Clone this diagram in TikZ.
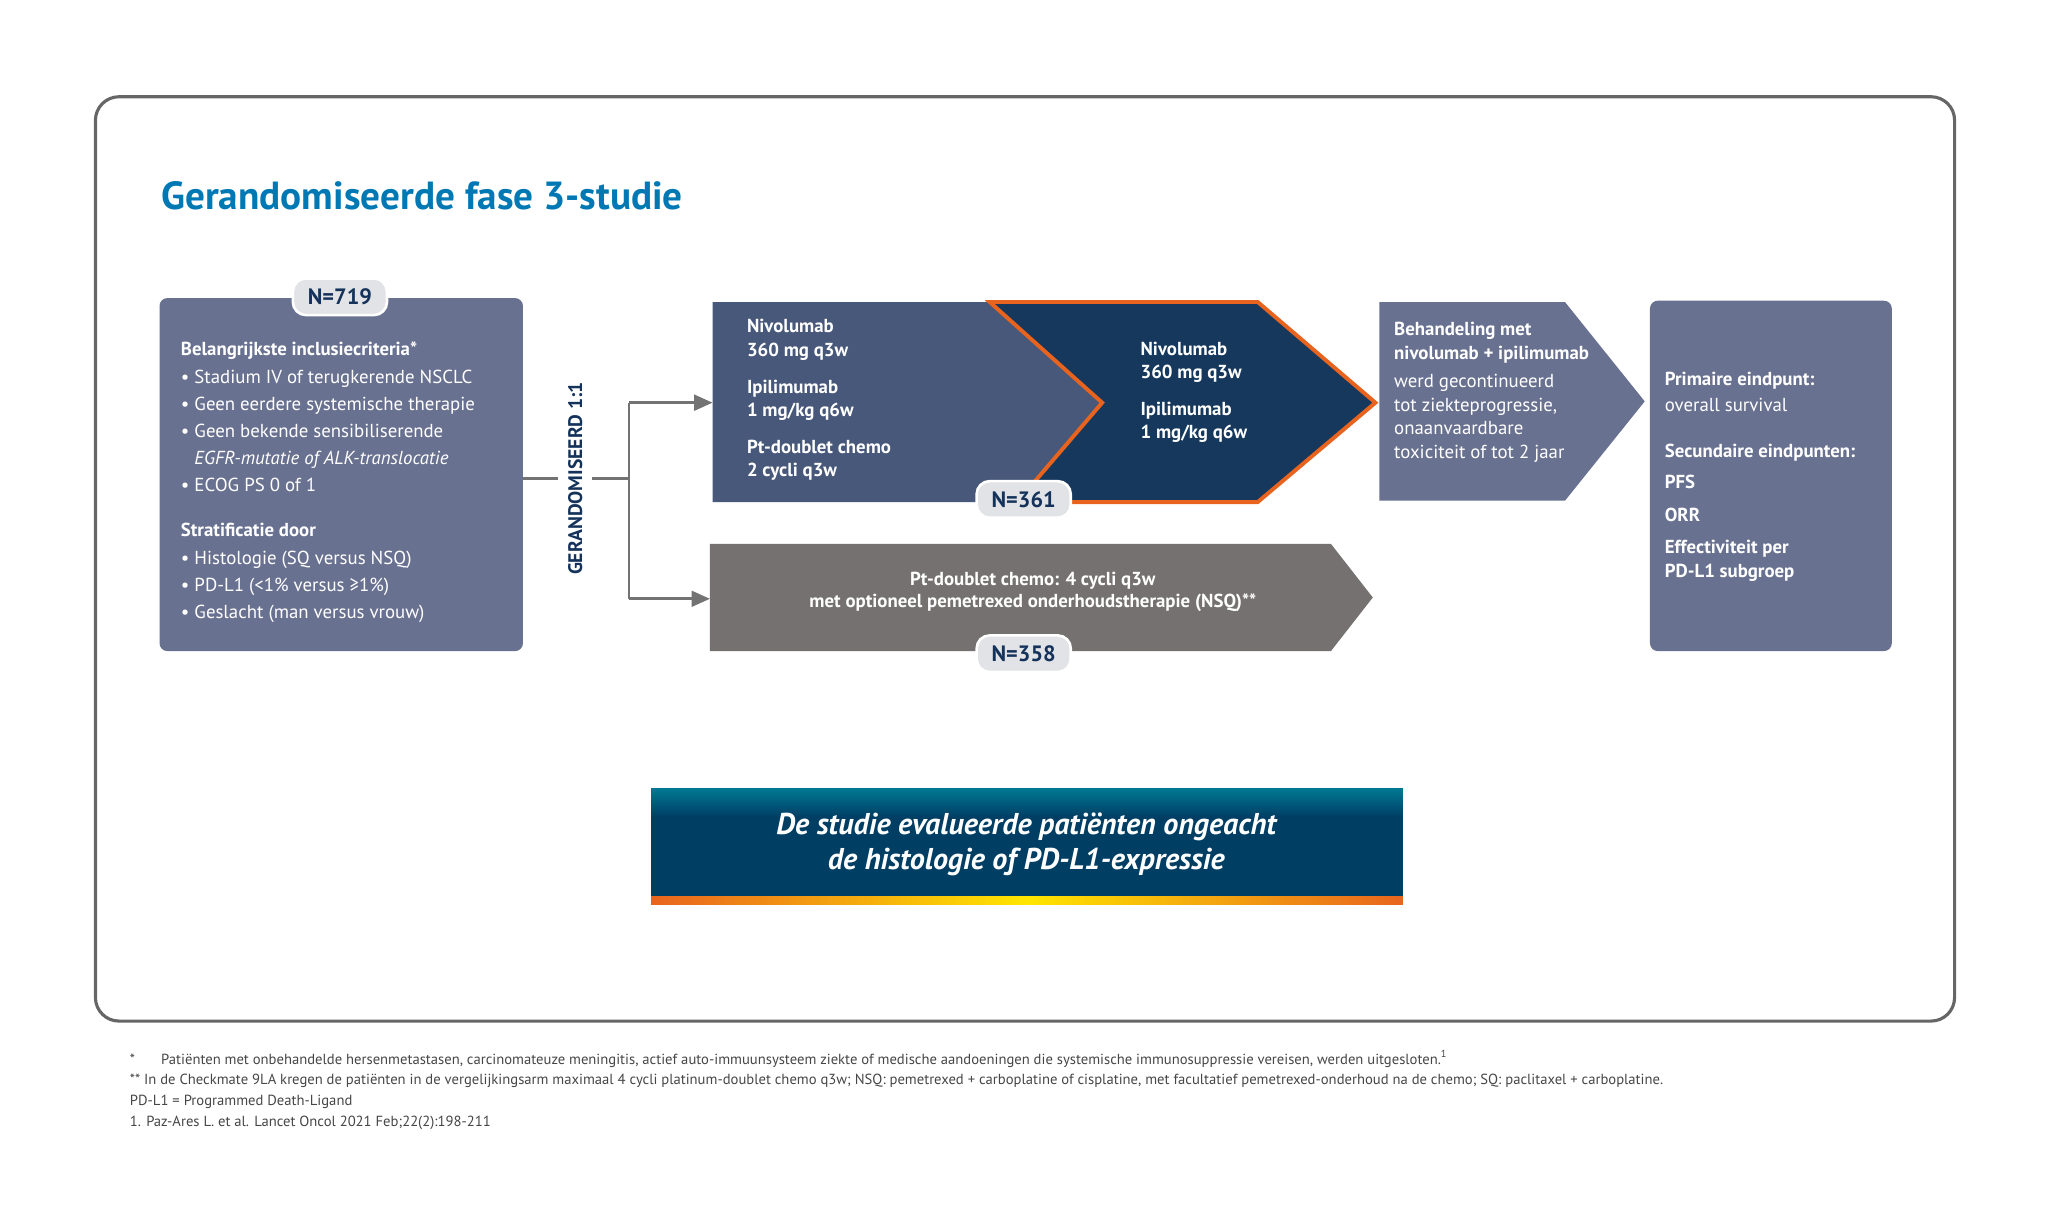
\documentclass[tikz,border=0pt]{standalone}
\usepackage{fontspec}
\setmainfont{PT Sans}
\usetikzlibrary{arrows.meta,shapes.misc}
\definecolor{boxg}{RGB}{105,113,145}
\definecolor{arm1}{RGB}{72,88,122}
\definecolor{arm2}{RGB}{22,56,92}
\definecolor{chemo}{RGB}{116,113,112}
\definecolor{orng}{RGB}{232,100,30}
\definecolor{ttl}{RGB}{0,120,180}
\definecolor{dblue}{RGB}{20,50,90}
\definecolor{badge}{RGB}{226,227,230}
\definecolor{foot}{RGB}{70,70,70}
\definecolor{bann}{RGB}{0,62,100}
\tikzset{
 badge/.style={rounded corners=5pt,fill=badge,draw=white,line width=1pt,minimum width=36pt,minimum height=14pt,font=\fontsize{8.5}{10}\selectfont\bfseries,text=dblue,inner sep=1pt},
 wt/.style={text=white,align=left,anchor=north west,font=\fontsize{7.2}{9}\selectfont,inner sep=0pt},
 bt/.style={text=white,align=left,anchor=north west,font=\fontsize{7.2}{9}\selectfont\bfseries,inner sep=0pt},
 ft/.style={anchor=west,text=foot,font=\fontsize{5.6}{7}\selectfont,inner sep=0pt},
 con/.style={draw=gray!90!black,line width=1pt},
 arr/.style={con,-{Triangle[length=7pt,width=6pt]}}
}
\begin{document}
\begin{tikzpicture}[x=0.5pt,y=-0.5pt]
\useasboundingbox (0,0) rectangle (1568,937);
\draw[gray!80!black,line width=1.2pt,rounded corners=9pt] (73,74) rectangle (1495,781);
\node[anchor=west,text=ttl,font=\fontsize{15}{18}\selectfont\bfseries,inner sep=0pt] (title) at (123,150) {Gerandomiseerde fase 3-studie};
% left box
\fill[boxg,rounded corners=3pt] (122,228) rectangle (400,498);
\node[coordinate] (lbr) at (400,366) {};
\node[badge] (n719) at (260,227) {N=719};
\node[bt] (inc) at (138,261) {Belangrijkste inclusiecriteria*};
\node[wt] (incl) at (138,283) {• Stadium IV of terugkerende NSCLC\\[1.3pt]• Geen eerdere systemische therapie\\[1.3pt]• Geen bekende sensibiliserende\\[1.3pt]\phantom{• }\textit{EGFR-mutatie of ALK-translocatie}\\[1.3pt]• ECOG PS 0 of 1};
\node[bt] (strat) at (138,400) {Stratificatie door};
\node[wt] (stratl) at (138,421) {• Histologie (SQ versus NSQ)\\[1.3pt]• PD-L1 (<1\% versus ≥1\%)\\[1.3pt]• Geslacht (man versus vrouw)};
% randomisation
\node[rotate=90,text=dblue,font=\fontsize{7.5}{9}\selectfont\bfseries,inner sep=0pt,minimum width=52pt] (rand) at (440,366) {GERANDOMISEERD 1:1};
\coordinate (split) at (481,366);
\coordinate (up) at (481,308);
\coordinate (dn) at (481,458);
\draw[con] (lbr) -- (427,366);
\draw[con] (453,366) -- (split);
\draw[con] (up) -- (dn);
% arms
\fill[arm1] (545,231) -- (757,231) -- (843,308) -- (778,384) -- (545,384) -- cycle;
\filldraw[fill=arm2,draw=orng,line width=1.5pt,line join=miter] (757,231) -- (962,231) -- (1052,308) -- (962,384) -- (778,384) -- (843,308) -- cycle;
\coordinate (arm1in) at (545,308);
\draw[arr] (up) -- (arm1in);
\node[bt] (a1) at (571,244) {Nivolumab\\360 mg q3w\\[5pt]Ipilimumab\\1 mg/kg q6w\\[5pt]Pt-doublet chemo\\2 cycli q3w};
\node[bt] (a2) at (872,261) {Nivolumab\\360 mg q3w\\[5pt]Ipilimumab\\1 mg/kg q6w};
\node[badge] (n361) at (783,382) {N=361};
\fill[chemo] (543,416) -- (1018,416) -- (1050,457) -- (1018,498) -- (543,498) -- cycle;
\coordinate (arm2in) at (543,458);
\draw[arr] (dn) -- (arm2in);
\node[text=white,align=center,font=\fontsize{7.2}{8.5}\selectfont\bfseries,inner sep=0pt] (chemo) at (790,453) {Pt-doublet chemo: 4 cycli q3w\\met optioneel pemetrexed onderhoudstherapie (NSQ)**};
\node[badge] (n358) at (783,500) {N=358};
% continuation
\fill[boxg] (1055,231) -- (1197,231) -- (1258,307) -- (1197,383) -- (1055,383) -- cycle;
\node[bt] (cont) at (1066,246) {Behandeling met\\nivolumab + ipilimumab};
\node[wt] (cont2) at (1066,286) {werd gecontinueerd\\tot ziekteprogressie,\\onaanvaardbare\\toxiciteit of tot 2 jaar};
% endpoints
\fill[boxg,rounded corners=3pt] (1262,230) rectangle (1447,498);
\node[bt] (p1) at (1273,284) {Primaire eindpunt:};
\node[wt] (p2) at (1273,304) {overall survival};
\node[bt] (s1) at (1273,339) {Secundaire eindpunten:};
\node[bt] (s2) at (1273,363) {PFS};
\node[bt] (s3) at (1273,388) {ORR};
\node[bt] (s4) at (1273,413) {Effectiviteit per\\PD-L1 subgroep};
% banner
\shade[top color=bann!70!cyan,bottom color=bann] (498,603) rectangle (1073,625);
\fill[bann] (498,625) rectangle (1073,686);
\shade[left color=orng,right color=orng,middle color=yellow!80!orange] (498,686) rectangle (1073,692);
\node[text=white,align=center,font=\fontsize{11.5}{13.5}\selectfont\bfseries\itshape,inner sep=0pt] (ban) at (785,646) {De studie evalueerde patiënten ongeacht\\de histologie of PD-L1-expressie};
% footnotes
\node[ft] (f1) at (99,810) {*\hspace{10pt}Patiënten met onbehandelde hersenmetastasen, carcinomateuze meningitis, actief auto-immuunsysteem ziekte of medische aandoeningen die systemische immunosuppressie vereisen, werden uitgesloten.\textsuperscript{1}};
\node[ft] (f2) at (99,827) {** In de Checkmate 9LA kregen de patiënten in de vergelijkingsarm maximaal 4 cycli platinum-doublet chemo q3w; NSQ: pemetrexed + carboplatine of cisplatine, met facultatief pemetrexed-onderhoud na de chemo; SQ: paclitaxel + carboplatine.};
\node[ft] (f3) at (99,843) {PD-L1 = Programmed Death-Ligand};
\node[ft] (f4) at (99,859) {1. Paz-Ares L. et al. Lancet Oncol 2021 Feb;22(2):198-211};
\end{tikzpicture}
\end{document}
